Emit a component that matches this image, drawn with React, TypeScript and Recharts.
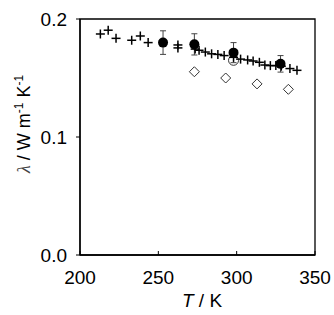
import React from 'react';
import { ScatterChart, Scatter, XAxis, YAxis, ErrorBar, ReferenceArea, Label } from 'recharts';

const crossT = [213, 218, 223, 233, 238.5, 243.5, 262.5, 262.5, 273.5, 276, 280, 284, 288, 292, 298, 302.5, 307, 310.5, 314.5, 318, 321.5, 325, 328.5, 334, 338.5];
const crossL = [0.1873, 0.1905, 0.1836, 0.182, 0.1856, 0.18, 0.178, 0.1755, 0.1745, 0.1735, 0.172, 0.1705, 0.17, 0.169, 0.1675, 0.166, 0.1653, 0.1644, 0.1633, 0.161, 0.1605, 0.1605, 0.16, 0.158, 0.1565];

const filledT = [253, 273, 298, 328];
const filledL = [0.18, 0.1785, 0.1715, 0.162];
const filledErr = [0.01, 0.009, 0.0085, 0.007];

const diamondT = [273, 293, 313, 333];
const diamondL = [0.1553, 0.15, 0.145, 0.1404];

const openT = [298];
const openL = [0.165];

const xTicks = [200, 250, 300, 350];
const yTicks = [0, 0.1, 0.2];

const crossData = crossT.map((t, i) => ({ t, l: crossL[i] }));
const filledData = filledT.map((t, i) => ({ t, l: filledL[i], err: filledErr[i] }));
const diamondData = diamondT.map((t, i) => ({ t, l: diamondL[i] }));
const openData = openT.map((t, i) => ({ t, l: openL[i] }));

const FONT = '"Liberation Sans", Arial, sans-serif';
const FS = 19;
const X_TICK_MARGIN = 16;

const CrossShape = (p: any) => (
  <g>
    <line x1={p.cx - 4.5} x2={p.cx + 4.5} y1={p.cy} y2={p.cy} stroke="#000" strokeWidth={1.5} />
    <line x1={p.cx} x2={p.cx} y1={p.cy - 4.5} y2={p.cy + 4.5} stroke="#000" strokeWidth={1.5} />
  </g>
);
const FilledShape = (p: any) => <circle cx={p.cx} cy={p.cy} r={5} fill="#000" />;
const OpenShape = (p: any) => <circle cx={p.cx} cy={p.cy} r={5} fill="none" stroke="#333" strokeWidth={1} />;
const DiamondShape = (p: any) => (
  <path d={`M${p.cx},${p.cy - 5} L${p.cx + 5},${p.cy} L${p.cx},${p.cy + 5} L${p.cx - 5},${p.cy} Z`} fill="#fff" stroke="#333" strokeWidth={1} />
);

const XTick = (p: any) => {
  const axisY = p.y - X_TICK_MARGIN;
  return (
    <g>
      <line x1={p.x} x2={p.x} y1={axisY} y2={axisY - 4} stroke="#000" strokeWidth={1} />
      <text x={p.x} y={p.y} dy="0.71em" textAnchor="middle" fontFamily={FONT} fontSize={FS} fill="#000">
        {p.payload.value}
      </text>
    </g>
  );
};

const YLabel = () => (
  <text transform="translate(30,124) rotate(-90)" textAnchor="middle" fontFamily={FONT} fontSize={18} fill="#000">
    <tspan fontFamily='"Liberation Serif", serif' fontStyle="italic" fill="#444">λ</tspan>
    <tspan> / W m</tspan>
    <tspan dy={-7} fontSize={12}>-1</tspan>
    <tspan dy={7}> K</tspan>
    <tspan dy={-7} fontSize={12}>-1</tspan>
  </text>
);

const XLabel = () => (
  <text x={202} y={307} textAnchor="middle" fontFamily={FONT} fontSize={FS} fill="#000">
    <tspan fontStyle="italic">T</tspan>
    <tspan> / K</tspan>
  </text>
);

export default function App() {
  return (
    <div style={{ position: 'absolute', left: 0, top: 0, background: '#fff' }}>
      <ScatterChart width={334} height={315} margin={{ top: 19, right: 19, left: 20, bottom: 20 }}>
        <XAxis
          type="number"
          dataKey="t"
          domain={[200, 350]}
          ticks={xTicks}
          height={40}
          tickLine={false}
          tickSize={0}
          tickMargin={X_TICK_MARGIN}
          tick={<XTick />}
          axisLine={{ stroke: '#000', strokeWidth: 1.3 }}
          allowDataOverflow
        >
          <Label content={<XLabel />} />
        </XAxis>
        <YAxis
          type="number"
          dataKey="l"
          domain={[0, 0.2]}
          ticks={yTicks}
          width={60}
          tickSize={4}
          tickMargin={9}
          tickFormatter={(v: number) => v.toFixed(1)}
          tick={{ fontFamily: FONT, fontSize: FS, fill: '#000' }}
          tickLine={{ stroke: '#000' }}
          axisLine={{ stroke: '#000', strokeWidth: 1.3 }}
          allowDataOverflow
        >
          <Label content={<YLabel />} />
        </YAxis>
        <ReferenceArea x1={200} x2={350} y1={0} y2={0.2} fill="none" stroke="#000" strokeWidth={1.3} fillOpacity={0} />
        <Scatter data={diamondData} shape={<DiamondShape />} isAnimationActive={false} />
        <Scatter data={openData} shape={<OpenShape />} isAnimationActive={false} />
        <Scatter data={filledData} shape={<FilledShape />} isAnimationActive={false}>
          <ErrorBar dataKey="err" direction="y" width={3} stroke="#444" strokeWidth={1} />
        </Scatter>
        <Scatter data={crossData} shape={<CrossShape />} isAnimationActive={false} />
      </ScatterChart>
    </div>
  );
}
